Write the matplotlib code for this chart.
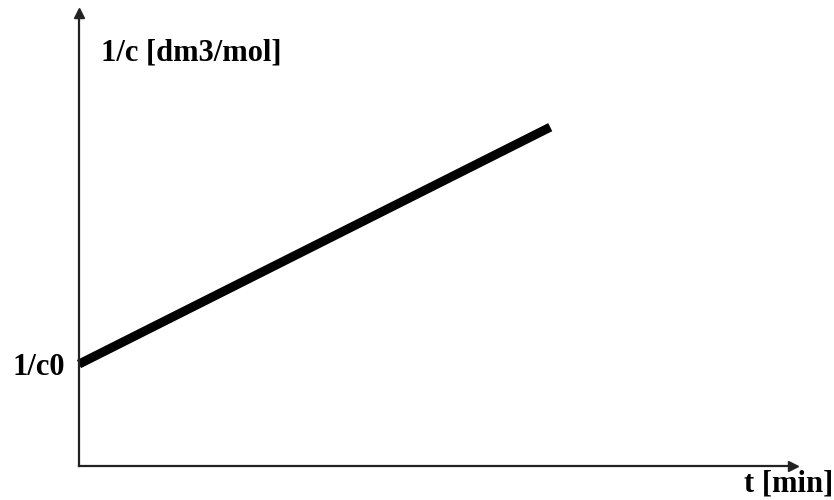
import matplotlib
matplotlib.use("Agg")
import matplotlib.pyplot as plt

# Data (abstract units)
t_values = [0.0, 6.6]
inv_c_values = [2.25, 7.48]
y_tick_positions = [2.25]
y_tick_labels = ["1/c0"]
x_label = "t [min]"
y_label = "1/c [dm3/mol]"

W, H = 834, 500
fig = plt.figure(figsize=(W / 100, H / 100), dpi=100)
left, bottom, right, top = 79, 466, 793, 13
ax = fig.add_axes([left / W, 1 - bottom / H, (right - left) / W, (bottom - top) / H])
ax.set_xlim(0, 10)
ax.set_ylim(0, 10)

for s in ["top", "right"]:
    ax.spines[s].set_visible(False)
for s in ["left", "bottom"]:
    ax.spines[s].set_linewidth(1.6)
    ax.spines[s].set_color("#222222")

# arrows
ax.plot(10, 0, marker=">", color="#222222", markersize=7, clip_on=False)
ax.plot(0, 10, marker="^", color="#222222", markersize=7, clip_on=False)

ax.plot(t_values, inv_c_values, color="black", linewidth=6.5, solid_capstyle="butt",
        clip_on=False)

font = dict(family="Liberation Serif", weight="bold", size=22)
ax.set_xticks([])
ax.set_yticks(y_tick_positions)
ax.set_yticklabels(y_tick_labels, fontdict=font)
ax.tick_params(axis="y", length=0, pad=10)

fig.text(833 / W, 1 - 498 / H, x_label, ha="right", va="bottom", **font)
fig.text(101 / W, 1 - 53 / H, y_label, ha="left", va="center", **font)

fig.savefig("out.png", dpi=100)
